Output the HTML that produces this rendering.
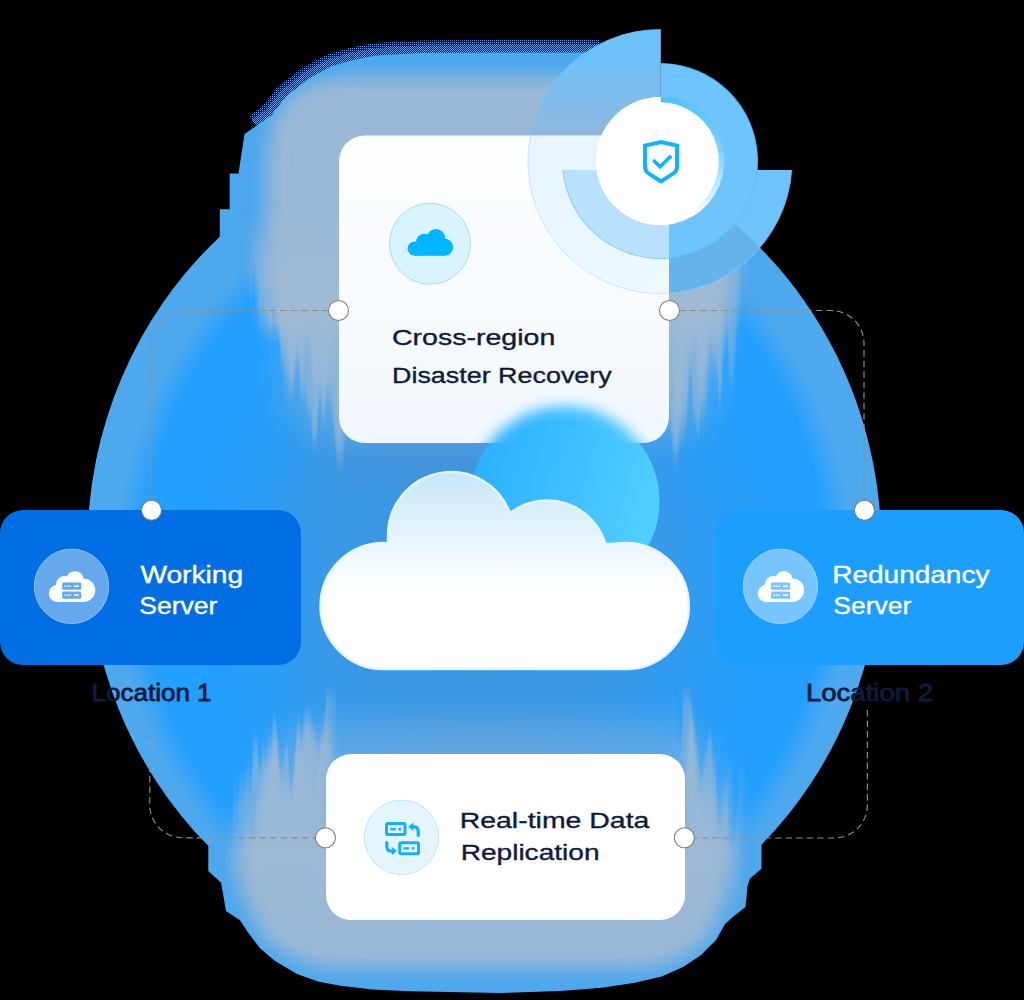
<!DOCTYPE html>
<html><head><meta charset="utf-8"><title>Cross-region Disaster Recovery</title>
<style>
html,body{margin:0;padding:0;background:#000;}
body{width:1024px;height:1000px;overflow:hidden;font-family:"Liberation Sans",sans-serif;}
svg{display:block;}
text{font-family:"Liberation Sans",sans-serif;}
.med{font-size:22.6px;fill:#0f1b3d;stroke:#0f1b3d;stroke-width:.35px;}
.wht{font-size:23px;fill:#fff;stroke:#fff;stroke-width:.35px;}
.srvrect{fill:currentColor;}
.loc{font-size:23.5px;fill:#0f1b3d;stroke:#0f1b3d;stroke-width:.8px;}
</style></head><body>
<svg width="1024" height="1000" viewBox="0 0 1024 1000">
<defs>
  <radialGradient id="blobg" cx="484" cy="568" r="1" gradientUnits="userSpaceOnUse" gradientTransform="translate(484 568) scale(368 393) translate(-484 -568)">
    <stop offset="0" stop-color="#3f94dc"/>
    <stop offset=".42" stop-color="#3a98e6"/>
    <stop offset=".66" stop-color="#2b9df5"/>
    <stop offset=".80" stop-color="#229fff"/>
    <stop offset=".925" stop-color="#229fff"/>
    <stop offset="1" stop-color="#4da8ee"/>
  </radialGradient>
  <filter id="b30" x="-50%" y="-50%" width="200%" height="200%"><feGaussianBlur stdDeviation="26"/></filter>
  <filter id="b14" x="-50%" y="-50%" width="200%" height="200%"><feGaussianBlur stdDeviation="14"/></filter>
  <filter id="b12" x="-50%" y="-50%" width="200%" height="200%"><feGaussianBlur stdDeviation="16"/></filter>
  <filter id="streak" filterUnits="userSpaceOnUse" x="0" y="0" width="1024" height="1000" color-interpolation-filters="sRGB">
    <feGaussianBlur in="SourceGraphic" stdDeviation="10" result="bl"/>
    <feTurbulence type="fractalNoise" baseFrequency="0.06 0.0004" numOctaves="2" seed="7" result="t"/>
    <feColorMatrix in="t" type="matrix" values="2.2 0 0 0 -0.6  0 0 0 0 0.5  0 0 0 0 0.5  0 0 0 0 1" result="t2"/>
    <feDisplacementMap in="bl" in2="t2" scale="85" xChannelSelector="G" yChannelSelector="R"/>
  </filter>
  <filter id="streak2" filterUnits="userSpaceOnUse" x="0" y="0" width="1024" height="1000" color-interpolation-filters="sRGB">
    <feGaussianBlur in="SourceGraphic" stdDeviation="7" result="bl"/>
    <feTurbulence type="fractalNoise" baseFrequency="0.11 0.0004" numOctaves="2" seed="23" result="t"/>
    <feColorMatrix in="t" type="matrix" values="2.4 0 0 0 -0.7  0 0 0 0 0.5  0 0 0 0 0.5  0 0 0 0 1" result="t2"/>
    <feDisplacementMap in="bl" in2="t2" scale="95" xChannelSelector="G" yChannelSelector="R"/>
  </filter>
  <filter id="b9" x="-50%" y="-50%" width="200%" height="200%"><feGaussianBlur stdDeviation="9"/></filter>
  <filter id="b8" x="-50%" y="-50%" width="200%" height="200%"><feGaussianBlur stdDeviation="7"/></filter>
  <clipPath id="blobclip">
    <ellipse cx="484.3" cy="547" rx="397" ry="416"/>
    <path id="tophalo" d="M219.8,262 V209.3 H229.7 V173.5 H238.5 L244.5,134 L256,126 L271,115.5 L286,96.5 L308,79 L330.5,66.5 L353,60 L375.5,55.5 L420,53 L500,52.5 H600 V300 Z"/>
    <path id="bothalo" d="M208.3,800 V870.9 L221.1,882.7 L226,911 L240,920.3 L247,931 L260,948.2 L275,961 L297,974 L318.9,981.8 L340.4,985.7 L372.6,989.5 L410,991.3 L500,993 L560,991 L580,989.5 L601.5,987.8 L633.7,983 L661.6,976.5 L683,967 L700.8,955.2 L716,940 L725,924 L734,916 L745.5,907 L747.5,886 L750,878.4 L761.5,868.7 V800 Z"/>
  </clipPath>
  <linearGradient id="fadeT" x1="0" y1="205" x2="0" y2="275" gradientUnits="userSpaceOnUse"><stop offset="0" stop-color="#000"/><stop offset="1" stop-color="#fff"/></linearGradient>
  <linearGradient id="fadeB" x1="0" y1="850" x2="0" y2="915" gradientUnits="userSpaceOnUse"><stop offset="0" stop-color="#fff"/><stop offset="1" stop-color="#000"/></linearGradient>
  <mask id="cutTop" maskUnits="userSpaceOnUse" x="0" y="0" width="1024" height="1000"><rect x="0" y="0" width="1024" height="1000" fill="url(#fadeT)"/></mask>
  <mask id="cutBot" maskUnits="userSpaceOnUse" x="0" y="0" width="1024" height="1000"><rect x="0" y="0" width="1024" height="1000" fill="url(#fadeB)"/></mask>
  <clipPath id="cardclip"><rect x="339" y="136" width="330" height="307" rx="26"/></clipPath>
  <clipPath id="notcard"><path clip-rule="evenodd" d="M0,0H1024V1000H0Z M365,136 H643 A26,26 0 0 1 669,162 V417 A26,26 0 0 1 643,443 H365 A26,26 0 0 1 339,417 V162 A26,26 0 0 1 365,136 Z"/></clipPath>
  <linearGradient id="cardg" x1="0" y1="0" x2="0" y2="1">
    <stop offset="0" stop-color="#fcfeff"/><stop offset=".5" stop-color="#f9fcff"/><stop offset="1" stop-color="#f0f7fd"/>
  </linearGradient>
  <linearGradient id="cyang" x1="0" y1="0" x2="1" y2="0.3">
    <stop offset="0" stop-color="#27adff"/><stop offset="1" stop-color="#4ecdff"/>
  </linearGradient>
  <linearGradient id="cloudg" x1="0" y1="472" x2="0" y2="669" gradientUnits="userSpaceOnUse">
    <stop offset="0" stop-color="#c6e7f9"/><stop offset=".3" stop-color="#e3f3fc"/><stop offset=".48" stop-color="#f5fbfe"/><stop offset=".62" stop-color="#ffffff"/><stop offset="1" stop-color="#ffffff"/>
  </linearGradient>
  <linearGradient id="sectg" x1="0" y1="30" x2="0" y2="136" gradientUnits="userSpaceOnUse">
    <stop offset="0" stop-color="#6dc3fb"/><stop offset=".3" stop-color="#6fc0f7"/><stop offset="1" stop-color="#8fb8dd"/>
  </linearGradient>
  <linearGradient id="outin" x1="540" y1="170" x2="640" y2="300" gradientUnits="userSpaceOnUse">
    <stop offset="0" stop-color="#e7f5ff"/><stop offset="1" stop-color="#eef8fe"/>
  </linearGradient>
  <linearGradient id="arcg" x1="0" y1="99" x2="0" y2="215" gradientUnits="userSpaceOnUse">
    <stop offset="0" stop-color="#4fc3ff"/><stop offset=".45" stop-color="#7fd3ff"/><stop offset=".8" stop-color="#c8edff"/><stop offset="1" stop-color="#ffffff"/>
  </linearGradient>
<g id="srv">
  <g fill="#fff">
    <circle cx="57.3" cy="593.5" r="8.5"/><circle cx="64.5" cy="584.6" r="8.5"/><circle cx="75" cy="579.5" r="8.6"/><circle cx="83.4" cy="590.2" r="11.8"/>
    <rect x="57.3" y="584" width="26" height="18"/>
  </g>
  <g class="srvrect">
    <rect x="62.2" y="582.5" width="19" height="7.2" rx="1.3"/><rect x="62.2" y="591.5" width="19" height="7.3" rx="1.3"/>
  </g>
  <g fill="#fff">
    <rect x="64.5" y="585.5" width="1.5" height="1.5"/><rect x="66.9" y="585.5" width="1.5" height="1.5"/><rect x="69.3" y="585.5" width="1.5" height="1.5"/><rect x="74" y="585.5" width="5" height="1.5"/>
    <rect x="64.5" y="594.4" width="1.5" height="1.5"/><rect x="66.9" y="594.4" width="1.5" height="1.5"/><rect x="69.3" y="594.4" width="1.5" height="1.5"/><rect x="74" y="594.4" width="5" height="1.5"/>
  </g>
</g>
  <pattern id="dth50" width="2" height="2" patternUnits="userSpaceOnUse"><rect x="0" y="0" width="1" height="1" fill="#4da8ee" shape-rendering="crispEdges"/><rect x="1" y="1" width="1" height="1" fill="#4da8ee" shape-rendering="crispEdges"/></pattern>
  <pattern id="dth25" width="2" height="2" patternUnits="userSpaceOnUse"><rect x="0" y="0" width="1" height="1" fill="#4da8ee" shape-rendering="crispEdges"/></pattern>
</defs>

<rect width="1024" height="1000" fill="#000"/>

<!-- dither fringe -->
<path d="M256,126 L271,115.5 L286,96.5 L308,79 L330.5,66.5 L353,60 L375.5,55.5 L420,53 L500,52.5 H600" fill="none" stroke="url(#dth25)" stroke-width="25"/>
<path d="M256,126 L271,115.5 L286,96.5 L308,79 L330.5,66.5 L353,60 L375.5,55.5 L420,53 L500,52.5 H600" fill="none" stroke="url(#dth50)" stroke-width="15"/>
<!-- blob -->
<g clip-path="url(#blobclip)">
  <rect width="1024" height="1000" fill="#4da8ee"/>
  <ellipse cx="484" cy="568" rx="368" ry="393" fill="url(#blobg)"/>
  <ellipse cx="400" cy="462" rx="95" ry="22" fill="#4c8fcc" opacity=".4" filter="url(#b12)"/>
  <!-- whitish halos -->
  <rect x="282" y="96" width="434" height="345" rx="60" fill="#a1bad4" opacity=".35" filter="url(#b12)"/>
  <path d="M267,330 V160 Q267,77 352,77 H646 Q724,77 724,160 V330 Z" fill="#a1bad4" opacity=".9" filter="url(#b9)"/>
  <g mask="url(#cutTop)"><g fill="#a1bad4" opacity=".55" filter="url(#streak2)">
    <path d="M252,130 V240 C248,300 275,370 345,418 L345,130 Z"/>
    <path d="M742,130 V240 C748,300 725,370 663,418 L663,130 Z"/>
  </g><g fill="#a1bad4" opacity=".8" filter="url(#streak)">
    <path d="M266,130 V240 C258,300 285,375 345,425 L345,130 Z"/>
    <path d="M727,130 V240 C738,300 715,375 663,425 L663,130 Z"/>
  </g></g>
  <rect x="256" y="722" width="466" height="240" rx="70" fill="#a1bad4" opacity=".4" filter="url(#b12)"/>
  <path d="M244,840 V868 Q244,967 354,967 H626 Q725,967 725,868 V840 Z" fill="#a1bad4" opacity=".9" filter="url(#b9)"/>
  <g mask="url(#cutBot)"><g fill="#a1bad4" opacity=".55" filter="url(#streak2)">
    <path d="M232,990 V860 C228,796 280,760 332,736 L332,990 Z"/>
    <path d="M738,990 V860 C744,796 714,760 680,736 L680,990 Z"/>
  </g><g fill="#a1bad4" opacity=".8" filter="url(#streak)">
    <path d="M244,990 V862 C240,800 290,770 332,746 L332,990 Z"/>
    <path d="M728,990 V862 C734,800 706,770 680,746 L680,990 Z"/>
  </g></g>
</g>

<!-- rings (outside card) -->
<g id="rings">
  <!-- top-left pie sector -->
  <path d="M660.8,170 V29.5 A132,132 0 0 0 528.3,170 Z" fill="url(#sectg)"/>
  <!-- outer ring lower part: from 9 o'clock ccw to 3 o'clock -->
  <path d="M528.3,170 A132,132 0 0 0 791.7,170 H756 A96.5,96.5 0 0 1 564,170 Z" fill="#6ec3fb"/>
  <g clip-path="url(#blobclip)"><path d="M528.3,170 A132,132 0 0 0 791.7,170 H756 A96.5,96.5 0 0 1 564,170 Z" fill="#66b3ea"/></g>
  <path d="M660.8,29.5 A132,132 0 1 0 791.7,170" fill="none" stroke="#7dcbff" stroke-width="1" opacity=".7"/>
  <!-- inner ring: absent in top-left quadrant -->
  <path d="M660.8,63.5 A97.5,97.5 0 1 1 562.9,170 H596.6 A64,64 0 1 0 660.8,97 Z" fill="#6ec4fc"/>
  <path d="M660.8,63.5 A97.5,97.5 0 1 1 562.9,170" fill="none" stroke="#58c1ff" stroke-width="1.2" opacity=".8"/>
</g>

<!-- cyan circle -->
<circle cx="564.5" cy="501.4" r="95" fill="url(#cyang)"/>

<!-- top card -->
<rect x="339" y="135.5" width="330" height="307.5" rx="26" fill="url(#cardg)"/>
<g clip-path="url(#cardclip)">
  <!-- ring parts seen inside the card -->
  <path d="M660.8,170 V29.5 A132,132 0 0 0 528.3,170 Z" fill="#e8f5ff"/>
  <path d="M528.3,170 A132,132 0 0 0 791.7,170 H756 A96.5,96.5 0 0 1 564,170 Z" fill="url(#outin)"/>
  <path d="M660.8,29.5 A132,132 0 1 0 791.7,170" fill="none" stroke="#a4d8fb" stroke-width="1" opacity=".6"/>
  <path d="M660.8,63.5 A97.5,97.5 0 1 1 562.9,170 H596.6 A64,64 0 1 0 660.8,97 Z" fill="#b9e1fd"/>
  <path d="M660.8,63.5 A97.5,97.5 0 1 1 562.9,170" fill="none" stroke="#5cc0fc" stroke-width="1.1" opacity=".6"/>
  <circle cx="564.5" cy="501.4" r="95" fill="url(#cyang)" filter="url(#b8)"/>
</g>

<!-- white circle + shield -->
<circle cx="660" cy="161" r="64" fill="#fff"/>
<path d="M660.8,99.5 A61.5,61.5 0 0 1 690.8,214.3" fill="none" stroke="url(#arcg)" stroke-width="5.5"/>
<path d="M661,142 L677,145.6 V166.8 Q677,171.2 673.4,173.4 L661,181.4 L648.6,173.4 Q645,171.2 645,166.8 V145.6 Z" fill="none" stroke="#0fb4ff" stroke-width="4" stroke-linejoin="miter"/>
<path d="M653.2,160 L660,166.8 L671.2,155.8" fill="none" stroke="#0fb4ff" stroke-width="3.6"/>

<!-- icon circle top card -->
<circle cx="430" cy="243.7" r="40.5" fill="#d9f3ff" stroke="#aadcf9" stroke-width="1"/>
<g fill="#00b6ff">
  <circle cx="414.8" cy="248.6" r="7.2"/><circle cx="424.4" cy="242.2" r="8.4"/><circle cx="436" cy="238.2" r="9.2"/><circle cx="444.4" cy="247.2" r="8.6"/>
  <rect x="414.8" y="244" width="29.6" height="11.8"/>
</g>

<!-- big cloud -->
<g>
  <path id="cloud" d="M388,543.5 V535 A63,63 0 0 1 510,513 A61,61 0 0 1 605.6,544.2 L625.8,543 A63,63 0 0 1 625.8,669 H383.5 A63,63 0 0 1 383.5,543 Z" fill="url(#cloudg)" stroke="#e6f5fd" stroke-width="2.4"/>
</g>

<!-- left box -->
<rect x="0" y="510" width="301" height="155" rx="23" fill="#016fe3"/>
<circle cx="71.5" cy="586.3" r="37.2" fill="#66a8ec" stroke="#8cbff2" stroke-width="1"/>
<!-- right box -->
<rect x="715" y="510" width="309" height="155" rx="23" fill="#1c9efe"/>
<circle cx="780.4" cy="586.3" r="37.2" fill="#78c5fe" stroke="#9ad3fe" stroke-width="1"/>

<!-- bottom card -->
<rect x="326" y="754" width="359" height="166" rx="25" fill="#fff"/>
<circle cx="401.5" cy="837.3" r="37.2" fill="#e4f5fe" stroke="#c3e6fb" stroke-width="1"/>


<!-- server cloud icons -->
<use href="#srv" style="color:#66a8ec"/>
<use href="#srv" x="708.9" y="0" style="color:#77c4fe"/>
<!-- replication icon -->
<g fill="none" stroke="#12b0fe" stroke-width="3">
  <rect x="386.5" y="823.5" width="18.5" height="11" rx="1.4"/>
  <rect x="399.7" y="842.7" width="18.8" height="11" rx="1.4"/>
  <path d="M418.2,835.3 V831 Q418.2,826.9 414,826.9 H412" stroke-width="3.2" stroke-linecap="round"/>
  <path d="M386.8,842.7 V847 Q386.8,851 391,851 H392.5" stroke-width="3.2" stroke-linecap="round"/>
</g>
<g fill="#12b0fe">
  <rect x="390.2" y="828.1" width="5.8" height="2.3"/><circle cx="399.8" cy="829.2" r="1.45"/>
  <rect x="403.2" y="847.2" width="6" height="2.3"/><circle cx="413" cy="848.4" r="1.45"/>
  <path d="M408.2,826.8 L413.4,822.5 V831.1 Z"/>
  <path d="M396.8,851 L391.8,846.7 V855.3 Z"/>
</g>

<!-- dashed connectors -->
<g fill="none" stroke="#8e9088" stroke-width="1.15" stroke-dasharray="6.5 4">
  <path d="M339,310.5 H184 A33,33 0 0 0 151,343.5 V510"/>
  <path d="M669,310.5 H831 A33,33 0 0 1 864,343.5 V510"/>
  <path d="M149.8,713 V804.8 A33,33 0 0 0 182.8,837.8 H326"/>
  <path d="M867.4,710 V805 A33,33 0 0 1 834.4,838 H685"/>
</g>
<g fill="#fff" stroke="#7d827b" stroke-width="1.1">
  <circle cx="338.5" cy="310.5" r="10"/><circle cx="669.5" cy="310.5" r="10"/>
  <circle cx="151.5" cy="510.3" r="10"/><circle cx="864.4" cy="510.3" r="10"/>
  <circle cx="325.4" cy="837.8" r="10"/><circle cx="684.4" cy="837.8" r="10"/>
</g>

<!-- text -->
<text class="med" x="391.9" y="344.8" textLength="163.5" lengthAdjust="spacingAndGlyphs">Cross-region</text>
<text class="med" x="392" y="382.9" textLength="219.7" lengthAdjust="spacingAndGlyphs">Disaster Recovery</text>
<text class="wht" x="140.4" y="582.8" textLength="102.7" lengthAdjust="spacingAndGlyphs">Working</text>
<text class="wht" x="139.3" y="614.2" textLength="78" lengthAdjust="spacingAndGlyphs">Server</text>
<text class="wht" x="832.3" y="583" textLength="157.1" lengthAdjust="spacingAndGlyphs">Redundancy</text>
<text class="wht" x="833.3" y="614.2" textLength="78" lengthAdjust="spacingAndGlyphs">Server</text>
<text class="loc" x="91.5" y="701" textLength="120.1" lengthAdjust="spacingAndGlyphs">Location 1</text>
<text class="loc" x="805.9" y="701" textLength="127.2" lengthAdjust="spacingAndGlyphs">Location 2</text>
<text class="med" x="459.7" y="828.1" textLength="189.7" lengthAdjust="spacingAndGlyphs">Real-time Data</text>
<text class="med" x="460.7" y="859.8" textLength="138.8" lengthAdjust="spacingAndGlyphs">Replication</text>
</svg>
</body></html>
